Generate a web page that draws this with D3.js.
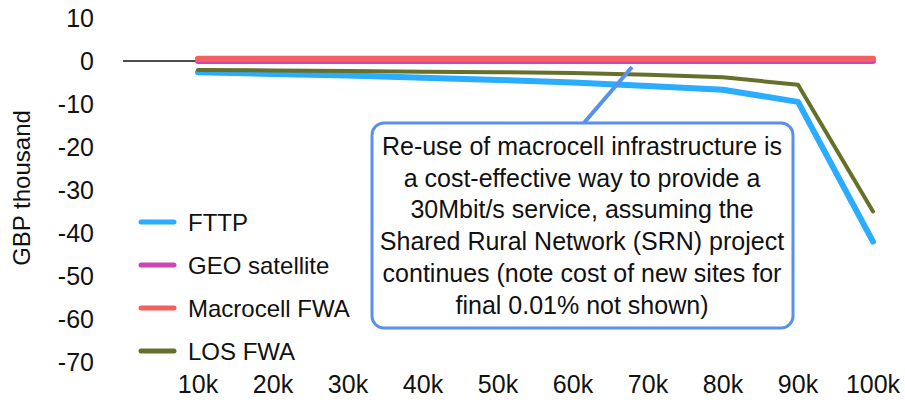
<!DOCTYPE html>
<html>
<head>
<meta charset="utf-8">
<script src="https://cdn.jsdelivr.net/npm/d3@7"></script>
<style>
  body { margin: 0; background: #fff; }
  text { font-family: "Liberation Sans", Arial, sans-serif; fill: #111; }
</style>
</head>
<body>
<div id="chart"></div>
<script>
// ==== data ====
const categories = [10, 20, 30, 40, 50, 60, 70, 80, 90, 100];
const tickLabels = ["10k", "20k", "30k", "40k", "50k", "60k", "70k", "80k", "90k", "100k"];
const yTicks = [10, 0, -10, -20, -30, -40, -50, -60, -70];

const fttp      = [-2.6, -3.0, -3.4, -3.9, -4.4, -5.0, -5.8, -6.7, -9.5, -42.0];
const geoSat    = [0, 0, 0, 0, 0, 0, 0, 0, 0, 0];
const macrocell = [0.5, 0.5, 0.5, 0.5, 0.5, 0.5, 0.5, 0.5, 0.5, 0.5];
const losFwa    = [-2.1, -2.2, -2.3, -2.5, -2.6, -2.8, -3.2, -3.8, -5.5, -35.0];

const seriesNames = ["FTTP", "GEO satellite", "Macrocell FWA", "LOS FWA"];
const seriesData  = [fttp, geoSat, macrocell, losFwa];
const seriesColor = ["#2aacff", "#d044b6", "#f26060", "#66702a"];
const seriesWidth = [6, 6, 6, 4];

const noteLines = [
  "Re-use of macrocell infrastructure is",
  "a cost-effective way to provide a",
  "30Mbit/s service, assuming the",
  "Shared Rural Network (SRN) project",
  "continues (note cost of new sites for",
  "final 0.01% not shown)"
];

const W = 905, H = 402;

const svg = d3.select("#chart")
  .append("svg")
    .attr("width", W)
    .attr("height", H);

// ==== scales ====
const x = d3.scaleLinear().domain([0, 100]).range([123, 873]);
const y = d3.scaleLinear().domain([-70, 10]).range([362, 18]);

// y tick labels
svg.append("g")
  .selectAll("text")
  .data(yTicks)
  .enter()
  .append("text")
    .attr("x", 94)
    .attr("y", d => y(d))
    .attr("dy", "0.36em")
    .attr("text-anchor", "end")
    .style("font-size", "25px")
    .text(d => d);

// x tick labels
svg.append("g")
  .selectAll("text")
  .data(categories)
  .enter()
  .append("text")
    .attr("x", d => x(d))
    .attr("y", 393)
    .attr("text-anchor", "middle")
    .style("font-size", "25px")
    .text((d, i) => tickLabels[i]);

// axis title
svg.append("text")
  .attr("transform", `translate(30, 188) rotate(-90)`)
  .attr("text-anchor", "middle")
  .style("font-size", "24px")
  .text("GBP thousand");

// zero line
svg.append("line")
  .attr("x1", x(0)).attr("x2", x(100))
  .attr("y1", y(0)).attr("y2", y(0))
  .attr("stroke", "#111")
  .attr("stroke-width", 1.5);

// ==== lines ====
const line = d3.line()
  .x((d, i) => x(categories[i]))
  .y(d => y(d));

seriesData.forEach((s, k) => {
  svg.append("path")
    .datum(s)
    .attr("d", line)
    .attr("fill", "none")
    .attr("stroke", seriesColor[k])
    .attr("stroke-width", seriesWidth[k])
    .attr("stroke-linecap", "round")
    .attr("stroke-linejoin", "round");
});

// ==== legend ====
const legend = svg.append("g");
seriesNames.forEach((name, i) => {
  const ly = 222 + i * 43;
  legend.append("line")
    .attr("x1", 141).attr("x2", 174)
    .attr("y1", ly).attr("y2", ly)
    .attr("stroke", seriesColor[i])
    .attr("stroke-width", 5)
    .attr("stroke-linecap", "round");
  legend.append("text")
    .attr("x", 188)
    .attr("y", ly)
    .attr("dy", "0.36em")
    .style("font-size", "24px")
    .text(name);
});

// ==== callout ====
const noteColor = "#5890ea";
svg.append("line")
  .attr("x1", 583).attr("y1", 124)
  .attr("x2", 632).attr("y2", 67)
  .attr("stroke", noteColor)
  .attr("stroke-width", 4);

svg.append("rect")
  .attr("x", 372).attr("y", 123)
  .attr("width", 421).attr("height", 205)
  .attr("rx", 12)
  .attr("fill", "#fff")
  .attr("stroke", noteColor)
  .attr("stroke-width", 3);

svg.append("g")
  .selectAll("text")
  .data(noteLines)
  .enter()
  .append("text")
    .attr("x", 582)
    .attr("y", (d, i) => 146 + i * 31.7)
    .attr("dy", "0.36em")
    .attr("text-anchor", "middle")
    .style("font-size", "25px")
    .text(d => d);
</script>
</body>
</html>
